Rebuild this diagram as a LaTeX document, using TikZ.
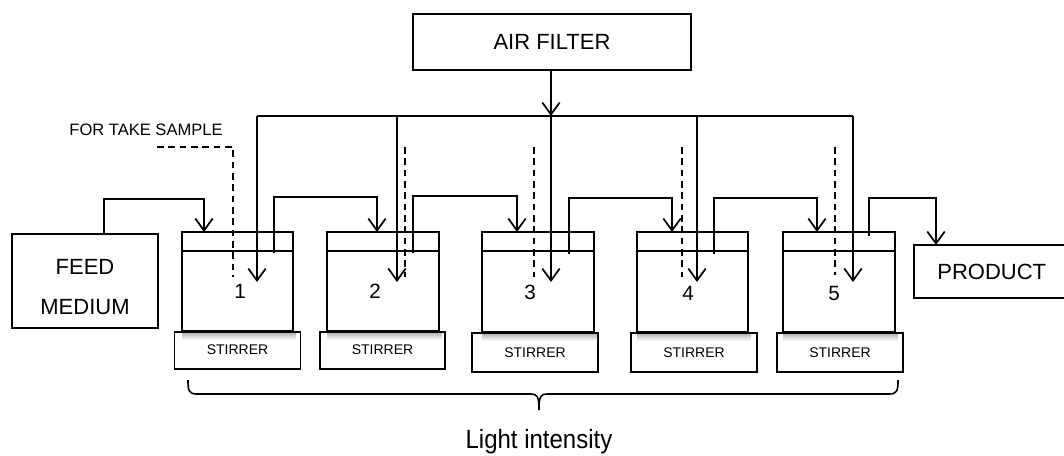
\documentclass[tikz,border=0pt]{standalone}
\usepackage{fontspec}
\setmainfont{Liberation Sans}
\usetikzlibrary{arrows.meta,calc}
\begin{document}
\begin{tikzpicture}[x=0.75pt,y=-0.75pt,
  box/.style={draw,line width=1.3pt,inner sep=0pt,outer sep=0pt,fill=white},
  vessel/.style={draw,line width=1.6pt,inner sep=0pt,outer sep=0pt,minimum width=111*0.75pt,minimum height=99*0.75pt},
  stirbox/.style={draw,line width=1.3pt,inner sep=0pt,outer sep=0pt,minimum width=126*0.75pt,font=\fontsize{10.5}{12}\selectfont},
  flow/.style={line width=1.3pt,-{Straight Barb[length=9pt,width=13pt,line width=1.3pt]}},
  pipe/.style={line width=1.3pt},
  sample/.style={line width=1.3pt,dash pattern=on 5pt off 3.5pt},
  num/.style={font=\fontsize{15.5}{18}\selectfont},
  big/.style={font=\fontsize{16.5}{20}\selectfont}]
\useasboundingbox (0,0) rectangle (1064,455);

% main boxes
\node[box,big,minimum width=278*0.75pt,minimum height=56*0.75pt] (air) at (552,42) {AIR FILTER};
\node[box,minimum width=146*0.75pt,minimum height=94*0.75pt] (feed) at (85,281) {};
\node[big] (feedA) at (85,267) {FEED};
\node[big] (feedB) at (85,307) {MEDIUM};
\node[box,big,minimum width=154*0.75pt,minimum height=53*0.75pt,text width=150*0.75pt,align=left] (prod) at (991,271.5) {\raisebox{-2pt}{\hspace*{16pt}PRODUCT}};

% stirrers
\node[stirbox,minimum height=37*0.75pt] (s1) at (237.5,350.5) {\raisebox{1pt}{STIRRER}};
\node[stirbox,minimum height=37*0.75pt,minimum width=125*0.75pt] (s2) at (382.5,350.5) {\raisebox{1pt}{STIRRER}};
\node[stirbox,minimum height=39*0.75pt] (s3) at (535,352.5) {STIRRER};
\node[stirbox,minimum height=39*0.75pt] (s4) at (694,352.5) {STIRRER};
\node[stirbox,minimum height=39*0.75pt] (s5) at (840,352.5) {STIRRER};

% shadows on stirrers
\foreach \a/\b/\t in {182/293/333,327/439/333,482/594/334,637/748/334,783/895/334}{
  \shade[top color=black!35,bottom color=white,opacity=0.8] (\a,\t) rectangle (\b+3,\t+7);
}

% vessels
\node[vessel] (v1) at (237.5,281.5) {};
\node[vessel,minimum width=112*0.75pt] (v2) at (383,281.5) {};
\node[vessel,minimum width=112*0.75pt,minimum height=100*0.75pt] (v3) at (538,282) {};
\node[vessel,minimum height=100*0.75pt] (v4) at (692.5,282) {};
\node[vessel,minimum width=112*0.75pt,minimum height=100*0.75pt] (v5) at (839,282) {};
\foreach \v in {v1,v2,v3,v4,v5}{
  \draw[line width=1.4pt] ($(\v.north west)+(0,19)$) -- ($(\v.north east)+(0,19)$);
}

% numbers
\node[num] (n1) at (240,291) {1};
\node[num] (n2) at (375,291) {2};
\node[num] (n3) at (530,292) {3};
\node[num] (n4) at (688,293) {4};
\node[num] (n5) at (834,293) {5};

% air supply
\coordinate (m1) at (257,116);
\coordinate (m2) at (397,116);
\coordinate (m3) at (551,116);
\coordinate (m4) at (697,116);
\coordinate (m5) at (853,116);
\draw[flow] (air.south -| m3) -- (m3);
\draw[pipe] (m1) -- (m5);
\foreach \m in {m1,m2,m3,m4,m5}{
  \draw[flow] (\m) -- ++(0,166);
}

% liquid flow
\draw[flow] ($(feed.north west)+(92,0)$) -- ++(0,-35) -| ($(v1.north west)+(22,0)$);
\draw[flow] ($(v1.north west)+(92,21)$) -- ++(0,-56) -| ($(v2.north west)+(50,0)$);
\draw[flow] ($(v2.north west)+(86,21)$) -- ++(0,-57) -| ($(v3.north west)+(35,0)$);
\draw[flow] ($(v3.north west)+(87,22)$) -- ++(0,-56) -| ($(v4.north west)+(35,0)$);
\draw[flow] ($(v4.north west)+(77,22)$) -- ++(0,-56) -| ($(v5.north west)+(34,0)$);
\draw[flow] ($(v5.north west)+(86,4)$) -- ++(0,-38) -| ($(prod.north west)+(22,0)$);

% sampling lines
\node[font=\fontsize{12.4}{14}\selectfont] (samp) at (146,130) {FOR TAKE SAMPLE};
\coordinate (d1) at (157,147);
\draw[sample] (d1) -| ($(v1.north west)+(51,45)$);
\draw[sample] (405,147) -- ($(v2.north west)+(78,45)$);
\draw[sample] (534,147) -- ($(v3.north west)+(52,45)$);
\draw[sample] (682,147) -- ($(v4.north west)+(45,45)$);
\draw[sample] (835,147) -- ($(v5.north west)+(52,43)$);

% brace
\coordinate (b1) at (188,380);
\coordinate (b2) at (898,380);
\coordinate (bt) at (539,410);
\draw[line width=1.2pt,line join=round] (b1) .. controls (188,391) and (189,394) .. (197,394)
  -- (531,394) .. controls (537,394) and (539,396) .. (bt);
\draw[line width=1.2pt,line join=round] (b2) .. controls (898,391) and (897,394) .. (889,394)
  -- (547,394) .. controls (541,394) and (539,396) .. (bt);
\node[font=\fontsize{18}{20}\selectfont,yscale=1.1] (light) at (539,442) {Light intensity};
\end{tikzpicture}
\end{document}
